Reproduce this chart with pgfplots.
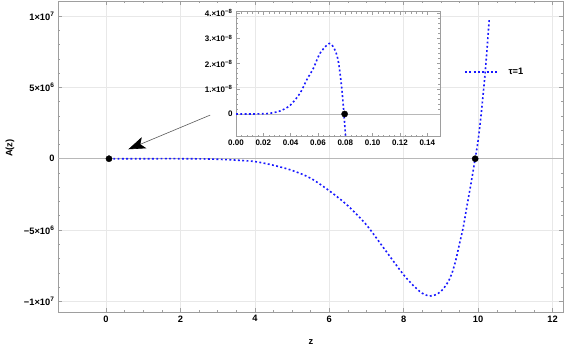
\documentclass[border=0pt]{standalone}
\usepackage{fontspec}
\setmainfont{Liberation Sans}
\usepackage{pgfplots}
\pgfplotsset{compat=1.18}
\usetikzlibrary{arrows.meta}
\definecolor{curveblue}{RGB}{25,25,255}
\definecolor{framegray}{gray}{0.62}
\definecolor{gridgray}{gray}{0.91}
\definecolor{zerogray}{gray}{0.72}

\tikzset{dotcurve/.style={curveblue, line width=1.6pt, dash pattern=on 1.9pt off 2.4pt}}
\pgfplotsset{
  mma/.style={
    scale only axis,
    axis line style={framegray, line width=0.6pt},
    every tick/.style={framegray, line width=0.5pt},
    tick align=inside,
    tick pos=both,
    xticklabel pos=lower, yticklabel pos=left,
    major tick length=4pt, minor tick length=2.3pt,
    scaled x ticks=false, scaled y ticks=false,
  },
}

\begin{document}
\begin{tikzpicture}
\path[use as bounding box] (-58pt,-35pt) rectangle (506pt,312pt);

% main plot
\begin{axis}[mma,
  width=505pt, height=311pt,
  xmin=-1.29, xmax=12.28, ymin=-1.075e7, ymax=1.106e7,
  xtick={0,2,4,6,8,10,12}, xticklabels={0,2,4,6,8,10,12},
  ytick={-1e7,-5e6,0,5e6,1e7},
  yticklabels={{−1×10\textsuperscript{7}},{−5×10\textsuperscript{6}},0,{5×10\textsuperscript{6}},{1×10\textsuperscript{7}}},
  minor x tick num=3, minor y tick num=4,
  ticklabel style={font=\bfseries\fontsize{9.3}{10}\selectfont},
  xmajorgrids, ymajorgrids,
  major grid style={gridgray, line width=0.5pt},
  xlabel={\bfseries z}, ylabel={\bfseries A(z)},
  label style={font=\fontsize{9.3}{10}\selectfont},
  xlabel style={at={(axis description cs:0.501,-0.096)}, anchor=center},
  ylabel style={at={(axis description cs:-0.095,0.527)}, anchor=center},
]
\addplot[zerogray, line width=0.7pt] coordinates {(-1.29,0) (12.28,0)};
\addplot[dotcurve, smooth, tension=0.5] coordinates {
  (0.08,0) (1,0) (2,0) (2.5,-0.01e6) (3,-0.04e6) (3.5,-0.1e6) (4,-0.2e6)
  (4.5,-0.46e6) (5,-0.82e6) (5.5,-1.37e6) (6,-2.25e6) (6.5,-3.3e6)
  (7,-4.65e6) (7.5,-6.4e6) (8,-8.15e6) (8.3,-9.0e6) (8.5,-9.44e6)
  (8.7,-9.63e6) (8.9,-9.5e6) (9.0,-9.3e6) (9.1,-9.0e6) (9.2,-8.6e6)
  (9.3,-8.0e6) (9.4,-7.1e6) (9.5,-5.95e6) (9.6,-4.8e6) (9.7,-3.3e6)
  (9.8,-1.85e6) (9.92,0) (10.0,1.3e6) (10.1,3.6e6) (10.2,6.4e6) (10.3,9.85e6)};
% legend
\addplot[dotcurve] coordinates {(9.65,6.1e6) (10.565,6.1e6)};
\node[anchor=west, inner sep=0pt, font=\bfseries\fontsize{9.3}{10}\selectfont]
  at (axis cs:10.81,6.1e6) {τ=1};
\addplot[only marks, mark=*, mark size=3.1pt, black]
  coordinates {(0.08,0) (9.92,0)};
\draw[black!65, line width=0.6pt,
  -{Stealth[length=17pt, width=12pt, inset=4pt, black]}]
  (axis cs:2.80,3.06e6) -- (axis cs:0.60,0.66e6);
\end{axis}

% inset
\begin{axis}[mma,
  at={(178pt,175.3pt)}, anchor=south west,
  width=204pt, height=125pt,
  xmin=0, xmax=0.1493, ymin=-0.9e-8, ymax=4.06e-8,
  xtick={0,0.02,0.04,0.06,0.08,0.10,0.12,0.14},
  xticklabels={0.00,0.02,0.04,0.06,0.08,0.10,0.12,0.14},
  ytick={0,1e-8,2e-8,3e-8,4e-8},
  yticklabels={0,{1.×10\textsuperscript{−8}},{2.×10\textsuperscript{−8}},{3.×10\textsuperscript{−8}},{4.×10\textsuperscript{−8}}},
  minor x tick num=4, minor y tick num=4,
  major tick length=3.5pt, minor tick length=2pt,
  ticklabel style={font=\bfseries\fontsize{8}{9}\selectfont},
]
\addplot[zerogray, line width=0.7pt] coordinates {(0,0) (0.1493,0)};
\addplot[dotcurve, smooth, tension=0.5] coordinates {
  (0,0) (0.01,0) (0.02,0.01e-8) (0.0249,0.03e-8) (0.0322,0.12e-8)
  (0.0395,0.34e-8) (0.0468,0.82e-8) (0.0517,1.35e-8) (0.0566,1.81e-8)
  (0.0615,2.41e-8) (0.0683,2.8e-8) (0.0724,2.54e-8) (0.0749,2.08e-8)
  (0.0773,1.08e-8) (0.079,0) (0.0802,-0.9e-8) (0.081,-1.5e-8)};
\addplot[only marks, mark=*, mark size=3.1pt, black] coordinates {(0.0795,0)};
\end{axis}
\end{tikzpicture}
\end{document}
